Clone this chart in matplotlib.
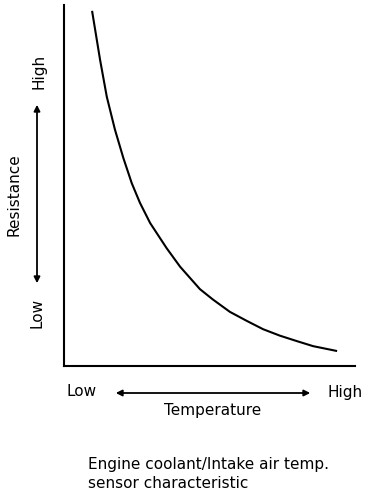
import matplotlib
matplotlib.use('Agg')
import matplotlib.pyplot as plt

# temperature (0-100, low->high) and resistance (0-100, low->high)
temp = [9.7, 12.4, 14.7, 17.5, 20.4, 23.3, 26.1, 29.6, 35.3, 39.9, 43.3, 46.7,
        51.2, 57.0, 62.8, 68.4, 74.2, 80.0, 85.6, 93.5]
resistance = [98.1, 84.8, 74.6, 65.5, 57.6, 50.6, 45.2, 39.6, 32.6, 27.5, 24.4, 21.3,
              18.4, 15.0, 12.5, 10.2, 8.4, 6.9, 5.5, 4.2]

fig = plt.figure(figsize=(3.84, 4.96), dpi=100)
ax = fig.add_axes([64/384, 130/496, 291/384, 361/496])
ax.plot(temp, resistance, color='black', lw=1.5, solid_joinstyle='round')
ax.set_xlim(0, 100)
ax.set_ylim(0, 100)
ax.set_xticks([])
ax.set_yticks([])
for s in ['top', 'right']:
    ax.spines[s].set_visible(False)
for s in ['left', 'bottom']:
    ax.spines[s].set_linewidth(1.5)

fs = 11
# x-axis labels
fig.text(66/384, 1-392/496, 'Low', fontsize=fs, va='center', ha='left')
fig.text(363/384, 1-392/496, 'High', fontsize=fs, va='center', ha='right')
fig.text(213/384, 1-410/496, 'Temperature', fontsize=fs, va='center', ha='center')
fig.add_artist(matplotlib.patches.FancyArrowPatch((113/384, 1-393/496), (313/384, 1-393/496),
               transform=fig.transFigure, arrowstyle='<|-|>', mutation_scale=9, lw=1.3, color='black'))

# y-axis labels
fig.text(39/384, 1-71/496, 'High', fontsize=fs, va='center', ha='center', rotation=90)
fig.text(37/384, 1-313/496, 'Low', fontsize=fs, va='center', ha='center', rotation=90)
fig.text(14/384, 1-195/496, 'Resistance', fontsize=fs, va='center', ha='center', rotation=90)
fig.add_artist(matplotlib.patches.FancyArrowPatch((37/384, 1-102/496), (37/384, 1-286/496),
               transform=fig.transFigure, arrowstyle='<|-|>', mutation_scale=9, lw=1.3, color='black'))

# caption
fig.text(88/384, 1-464/496, 'Engine coolant/Intake air temp.', fontsize=fs, va='center', ha='left')
fig.text(88/384, 1-484/496, 'sensor characteristic', fontsize=fs, va='center', ha='left')

fig.savefig('out.png', dpi=100)
